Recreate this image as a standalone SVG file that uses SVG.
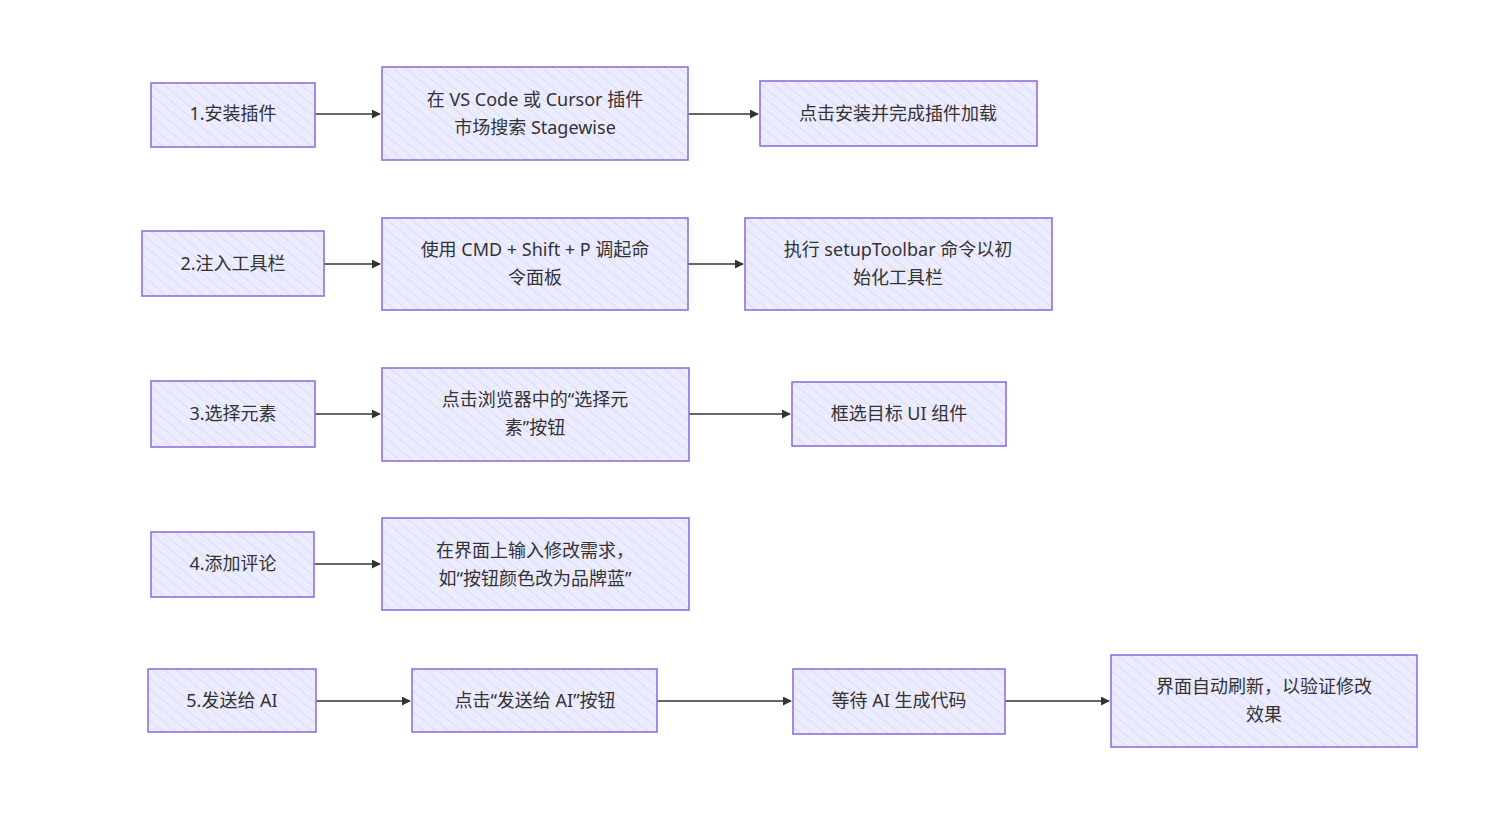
<svg xmlns="http://www.w3.org/2000/svg" width="1490" height="833" viewBox="0 0 1490 833">
<defs>
<pattern id="h" width="8" height="8" patternUnits="userSpaceOnUse" patternTransform="rotate(-50)">
<rect width="8" height="8" fill="#ECECFF"/>
<line x1="0" y1="0" x2="0" y2="8" stroke="#d6d6f5" stroke-width="1.5"/>
</pattern>
<marker id="a" viewBox="0 0 10 10" refX="9" refY="5" markerWidth="6" markerHeight="6" orient="auto"><path d="M0,0 L10,5 L0,10 z" fill="#333"/></marker>
</defs>
<style>
.n rect{fill:url(#h);stroke:#9370DB;stroke-width:1.6}
.n text{font-family:"Noto Sans","Noto Sans CJK SC",sans-serif;font-size:18px;fill:#333;text-anchor:middle}
.e path{fill:none;stroke:#333;stroke-width:1.5;marker-end:url(#a)}
</style>
<rect width="1490" height="833" fill="#fff"/>
<g class="e">
<path d="M315,114 L380,114"/><path d="M688,114 L758,114"/>
<path d="M324,264 L380,264"/><path d="M688,264 L743,264"/>
<path d="M315,414 L380,414"/><path d="M689,414 L790,414"/>
<path d="M314,564 L380,564"/>
<path d="M316,701 L410,701"/><path d="M657,701 L791,701"/><path d="M1005,701 L1109,701"/>
</g>
<g class="n" id="a1"><rect x="151" y="83" width="164" height="64"/><text x="233" y="120">1.安装插件</text></g>
<g class="n" id="b1"><rect x="382" y="67" width="306" height="93"/><text x="535" y="106">在 VS Code 或 Cursor 插件</text><text x="535" y="134">市场搜索 Stagewise</text></g>
<g class="n" id="c1"><rect x="760" y="81" width="277" height="65"/><text x="898" y="120">点击安装并完成插件加载</text></g>
<g class="n" id="a2"><rect x="142" y="231" width="182" height="65"/><text x="233" y="270">2.注入工具栏</text></g>
<g class="n" id="b2"><rect x="382" y="218" width="306" height="92"/><text x="535" y="256">使用 CMD + Shift + P 调起命</text><text x="535" y="284">令面板</text></g>
<g class="n" id="c2"><rect x="745" y="218" width="307" height="92"/><text x="898" y="256">执行 setupToolbar 命令以初</text><text x="898" y="284">始化工具栏</text></g>
<g class="n" id="a3"><rect x="151" y="381" width="164" height="66"/><text x="233" y="420">3.选择元素</text></g>
<g class="n" id="b3"><rect x="382" y="368" width="307" height="93"/><text x="535" y="406">点击浏览器中的“选择元</text><text x="535" y="434">素”按钮</text></g>
<g class="n" id="c3"><rect x="792" y="382" width="214" height="64"/><text x="899" y="420">框选目标 UI 组件</text></g>
<g class="n" id="a4"><rect x="151" y="532" width="163" height="65"/><text x="233" y="570">4.添加评论</text></g>
<g class="n" id="b4"><rect x="382" y="518" width="307" height="92"/><text x="535" y="557">在界面上输入修改需求，</text><text x="535" y="585">如“按钮颜色改为品牌蓝”</text></g>
<g class="n" id="a5"><rect x="148" y="669" width="168" height="63"/><text x="232" y="707">5.发送给 AI</text></g>
<g class="n" id="b5"><rect x="412" y="669" width="245" height="63"/><text x="535" y="707">点击“发送给 AI”按钮</text></g>
<g class="n" id="c5"><rect x="793" y="669" width="212" height="65"/><text x="899" y="707">等待 AI 生成代码</text></g>
<g class="n" id="d5"><rect x="1111" y="655" width="306" height="92"/><text x="1264" y="693">界面自动刷新，以验证修改</text><text x="1264" y="721">效果</text></g>
</svg>
